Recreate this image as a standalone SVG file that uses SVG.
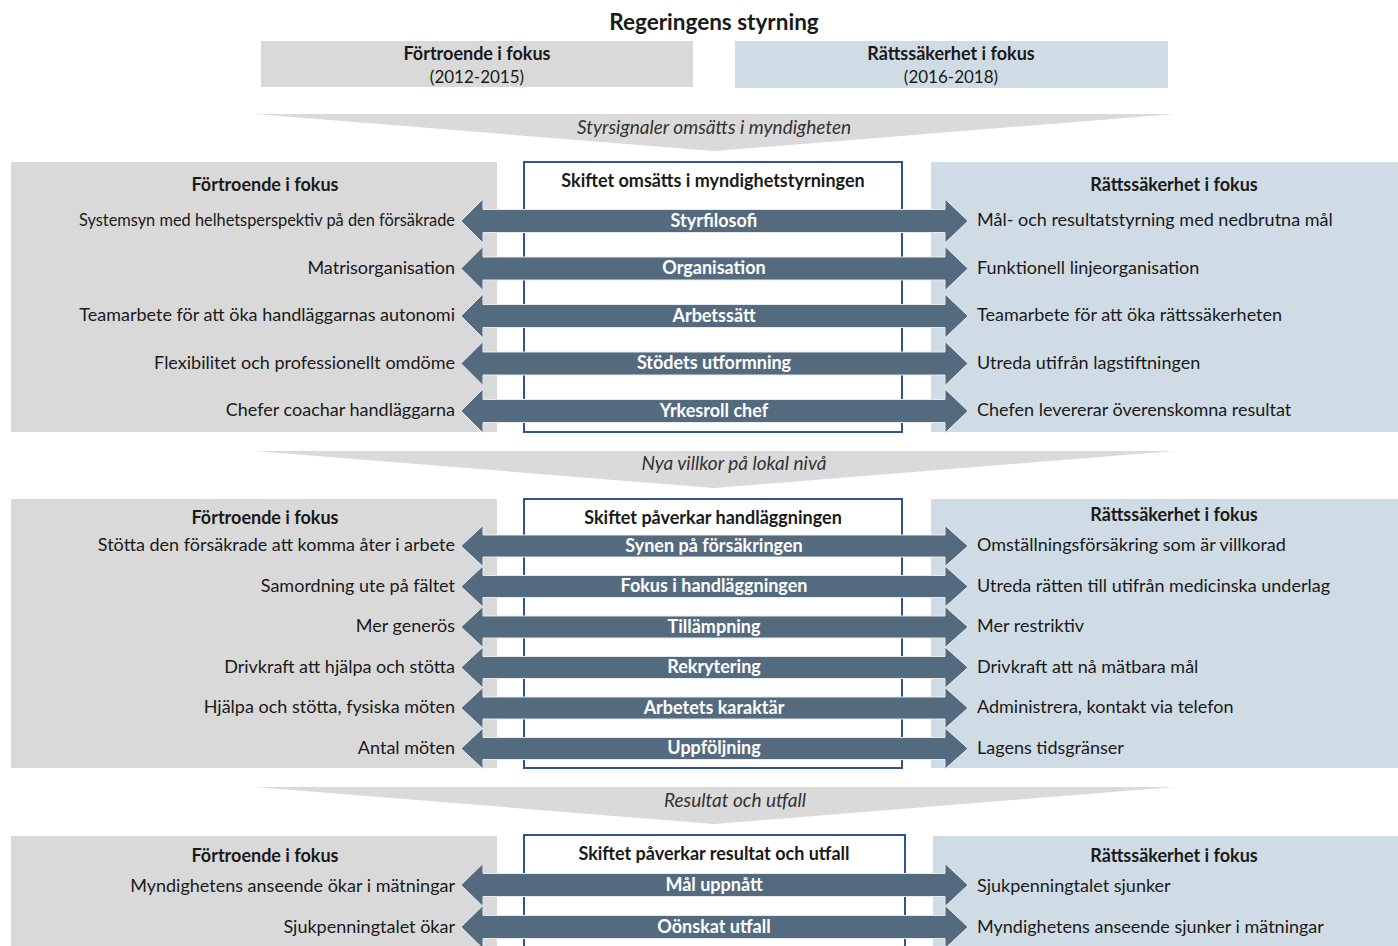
<svg xmlns="http://www.w3.org/2000/svg" xmlns:xlink="http://www.w3.org/1999/xlink" width="1398" height="946" viewBox="0 0 1398 946">
<style>
text{font-family:Lato,"Noto Sans","Liberation Sans",sans-serif;fill:#1a1a1a;font-size:18px}
.b{font-weight:bold}
.c{text-anchor:middle}
.r{text-anchor:end}
.i{font-style:italic;fill:#333;font-size:19px}
.al{font-weight:bold;fill:#ffffff;text-anchor:middle}
.gray{fill:#d9d9d9}
.blue{fill:#d0dce5}
.band{fill:#dadada}
.box{fill:#ffffff;stroke:#2f5496;stroke-width:2}
.arr{fill:#546a7f;stroke:#e6eaee;stroke-width:1}
</style>
<defs>
<path id="a1" class="arr" d="M461,0 L483,-22 L483,-11.5 L945,-11.5 L945,-22 L968,0 L945,22 L945,11.5 L483,11.5 L483,22 Z"/>
<path id="a2" class="arr" d="M461,0 L483,-20.5 L483,-11 L945,-11 L945,-20.5 L968,0 L945,20.5 L945,11 L483,11 L483,20.5 Z"/>
<path id="a3" class="arr" d="M461,0 L483,-21.5 L483,-11.5 L945,-11.5 L945,-21.5 L968,0 L945,21.5 L945,11.5 L483,11.5 L483,21.5 Z"/>
</defs>
<rect width="1398" height="946" fill="#ffffff"/>

<g id="title"><text class="b c" x="714" y="30" style="font-size:22.5px">Regeringens styrning</text></g>

<g id="top-left">
<rect class="gray" x="261" y="41" width="432" height="46"/>
<text class="b c" x="477" y="60">Förtroende i fokus</text>
<text class="c" x="477" y="83" style="font-size:17px">(2012-2015)</text>
</g>
<g id="top-right">
<rect class="blue" x="735" y="41" width="433" height="47"/>
<text class="b c" x="951" y="60">Rättssäkerhet i fokus</text>
<text class="c" x="951" y="83" style="font-size:17px">(2016-2018)</text>
</g>

<g id="band1">
<polygon class="band" points="255,114 1175,114 714,151"/>
<text class="i c" x="714" y="134">Styrsignaler omsätts i myndigheten</text>
</g>

<g id="s1-left">
<rect class="gray" x="11" y="162" width="486" height="270"/>
<text class="b c" x="265" y="191">Förtroende i fokus</text>
<text class="r" x="455" y="226" textLength="376" lengthAdjust="spacingAndGlyphs">Systemsyn med helhetsperspektiv på den försäkrade</text>
<text class="r" x="455" y="274">Matrisorganisation</text>
<text class="r" x="455" y="321">Teamarbete för att öka handläggarnas autonomi</text>
<text class="r" x="455" y="369">Flexibilitet och professionellt omdöme</text>
<text class="r" x="455" y="416">Chefer coachar handläggarna</text>
</g>
<g id="s1-right">
<rect class="blue" x="931" y="162" width="467" height="270"/>
<text class="b c" x="1174" y="191">Rättssäkerhet i fokus</text>
<text x="977" y="226">Mål- och resultatstyrning med nedbrutna mål</text>
<text x="977" y="274">Funktionell linjeorganisation</text>
<text x="977" y="321">Teamarbete för att öka rättssäkerheten</text>
<text x="977" y="369">Utreda utifrån lagstiftningen</text>
<text x="977" y="416">Chefen levererar överenskomna resultat</text>
</g>
<g id="s1-center">
<rect class="box" x="524" y="162" width="378" height="270"/>
<text class="b c" x="713" y="187">Skiftet omsätts i myndighetstyrningen</text>
</g>

<g id="band2">
<polygon class="band" points="255,451 1175,451 714,488"/>
<text class="i c" x="734" y="470">Nya villkor på lokal nivå</text>
</g>

<g id="s2-left">
<rect class="gray" x="11" y="499" width="486" height="269"/>
<text class="b c" x="265" y="524">Förtroende i fokus</text>
<text class="r" x="455" y="551">Stötta den försäkrade att komma åter i arbete</text>
<text class="r" x="455" y="592">Samordning ute på fältet</text>
<text class="r" x="455" y="632">Mer generös</text>
<text class="r" x="455" y="673">Drivkraft att hjälpa och stötta</text>
<text class="r" x="455" y="713">Hjälpa och stötta, fysiska möten</text>
<text class="r" x="455" y="754">Antal möten</text>
</g>
<g id="s2-right">
<rect class="blue" x="931" y="499" width="467" height="269"/>
<text class="b c" x="1174" y="521">Rättssäkerhet i fokus</text>
<text x="977" y="551">Omställningsförsäkring som är villkorad</text>
<text x="977" y="592">Utreda rätten till utifrån medicinska underlag</text>
<text x="977" y="632">Mer restriktiv</text>
<text x="977" y="673">Drivkraft att nå mätbara mål</text>
<text x="977" y="713">Administrera, kontakt via telefon</text>
<text x="977" y="754">Lagens tidsgränser</text>
</g>
<g id="s2-center">
<rect class="box" x="524" y="499" width="378" height="269"/>
<text class="b c" x="713" y="524">Skiftet påverkar handläggningen</text>
</g>

<g id="band3">
<polygon class="band" points="255,787 1175,787 714,824"/>
<text class="i c" x="735" y="807">Resultat och utfall</text>
</g>

<g id="s3-left">
<rect class="gray" x="11" y="836" width="486" height="120"/>
<text class="b c" x="265" y="862">Förtroende i fokus</text>
<text class="r" x="455" y="892">Myndighetens anseende ökar i mätningar</text>
<text class="r" x="455" y="933">Sjukpenningtalet ökar</text>
</g>
<g id="s3-right">
<rect class="blue" x="933" y="836" width="465" height="120"/>
<text class="b c" x="1174" y="862">Rättssäkerhet i fokus</text>
<text x="977" y="892">Sjukpenningtalet sjunker</text>
<text x="977" y="933">Myndighetens anseende sjunker i mätningar</text>
</g>
<g id="s3-center">
<rect class="box" x="524" y="835" width="381" height="130"/>
<text class="b c" x="714" y="860">Skiftet påverkar resultat och utfall</text>
</g>

<g id="connectors">
<use xlink:href="#a1" y="221"/><text class="al" x="714" y="227">Styrfilosofi</text>
<use xlink:href="#a1" y="268.5"/><text class="al" x="714" y="274">Organisation</text>
<use xlink:href="#a1" y="316"/><text class="al" x="714" y="322">Arbetssätt</text>
<use xlink:href="#a1" y="363.5"/><text class="al" x="714" y="369">Stödets utformning</text>
<use xlink:href="#a1" y="411"/><text class="al" x="714" y="417">Yrkesroll chef</text>

<use xlink:href="#a2" y="546"/><text class="al" x="714" y="552">Synen på försäkringen</text>
<use xlink:href="#a2" y="586.5"/><text class="al" x="714" y="592">Fokus i handläggningen</text>
<use xlink:href="#a2" y="627"/><text class="al" x="714" y="633">Tillämpning</text>
<use xlink:href="#a2" y="667.5"/><text class="al" x="714" y="673">Rekrytering</text>
<use xlink:href="#a2" y="708"/><text class="al" x="714" y="714">Arbetets karaktär</text>
<use xlink:href="#a2" y="748.5"/><text class="al" x="714" y="754">Uppföljning</text>

<use xlink:href="#a3" y="885"/><text class="al" x="714" y="891">Mål uppnått</text>
<use xlink:href="#a3" y="927"/><text class="al" x="714" y="933">Oönskat utfall</text>
</g>
</svg>
